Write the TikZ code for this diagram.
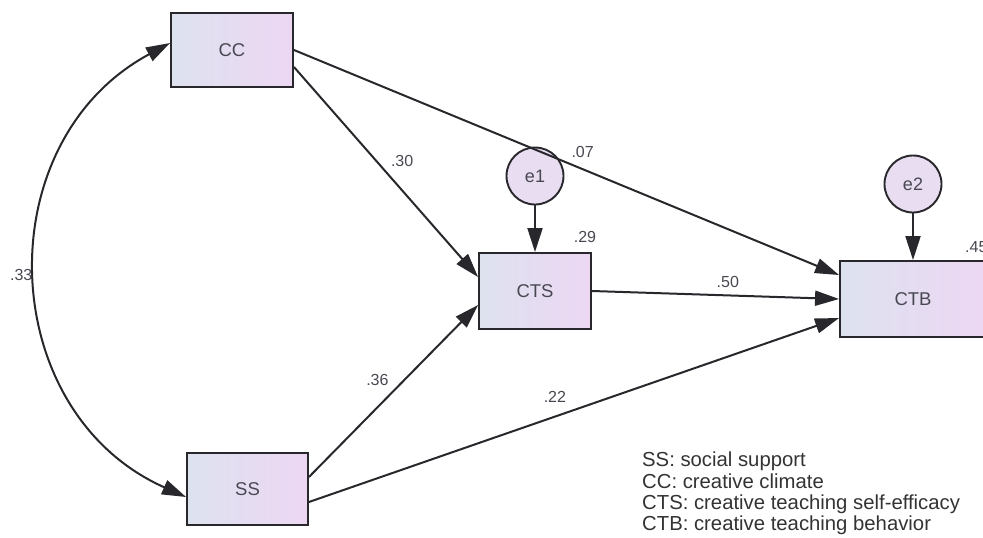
\documentclass[tikz,border=0pt]{standalone}
\usepackage{fontspec}
\setmainfont{Liberation Sans}
\usetikzlibrary{positioning,arrows.meta}
\definecolor{boxleft}{RGB}{221,226,239}
\definecolor{boxright}{RGB}{237,215,243}
\definecolor{errfill}{RGB}{233,221,242}
\definecolor{edgegray}{RGB}{40,40,44}
\definecolor{textgray}{RGB}{72,72,82}
\begin{document}
\begin{tikzpicture}[x=1pt, y=-1pt, node distance=115pt,
        >={Triangle[length=24pt,width=15pt]},
        var/.style={rectangle, draw=edgegray, line width=1.9pt, left color=boxleft, right color=boxright, text=textgray, font=\fontsize{18.5}{18.5}\selectfont, inner sep=0pt},
        err/.style={circle, draw=edgegray, line width=1.9pt, fill=errfill, minimum size=57pt, inner sep=0pt, text=textgray, font=\fontsize{18}{18}\selectfont},
        link/.style={draw=edgegray, line width=2pt, ->},
        num/.style={text=textgray, font=\fontsize{16}{16}\selectfont, inner sep=4pt}]
        \useasboundingbox (0,0) rectangle (983,538);

        \node[var, minimum width=122pt, minimum height=74pt] (cc) at (232,50) {CC};
        \node[var, minimum width=121pt, minimum height=72pt] (ss) at (247.5,489) {SS};
        \node[var, minimum width=112pt, minimum height=76pt] (cts) at (535,291) {CTS};
        \node[var, minimum width=146pt, minimum height=76pt] (ctb) at (913,299) {CTB};
        \node[err, above of=cts] (e1) {e1};
        \node[err, above of=ctb] (e2) {e2};

        \path ([yshift=-17pt]cc.east) edge[link, auto] node[num, pos=.5] (w1) {.30} ([yshift=14pt]cts.west);
        \path (cc.east) edge[link, auto] node[num, pos=.5] (w2) {.07} ([yshift=24pt]ctb.west);
        \path (cts.east) edge[link, auto] node[num, pos=.55, inner sep=7pt] (w3) {.50} (ctb.west);
        \path ([yshift=12pt]ss.east) edge[link, auto] node[num, pos=.5] (w4) {.36} ([yshift=-14pt]cts.west);
        \path ([yshift=-13pt]ss.east) edge[link, auto] node[num, pos=.5, inner sep=7pt] (w5) {.22} ([yshift=-19pt]ctb.west);

        \foreach \from / \to in {e1/cts,e2/ctb}
            \path (\from) edge[link] (\to);

        \draw[link, <->] ([yshift=7pt]cc.west) .. controls (-14,142) and (-5,412) .. ([yshift=-8pt]ss.west)
            node[num, pos=.5, auto, swap] (w6) {.33};

        \node[num] (r1) at (585,237) {.29};
        \node[num, anchor=west] (r2) at (961,247) {.45};

        \node[anchor=north west, align=left, inner sep=0pt, text=black!80, font=\fontsize{20.3}{21.3}\selectfont] (key) at (642,452)
            {SS: social support\\CC: creative climate\\CTS: creative teaching self-efficacy\\CTB: creative teaching behavior};
    \end{tikzpicture}
\end{document}
